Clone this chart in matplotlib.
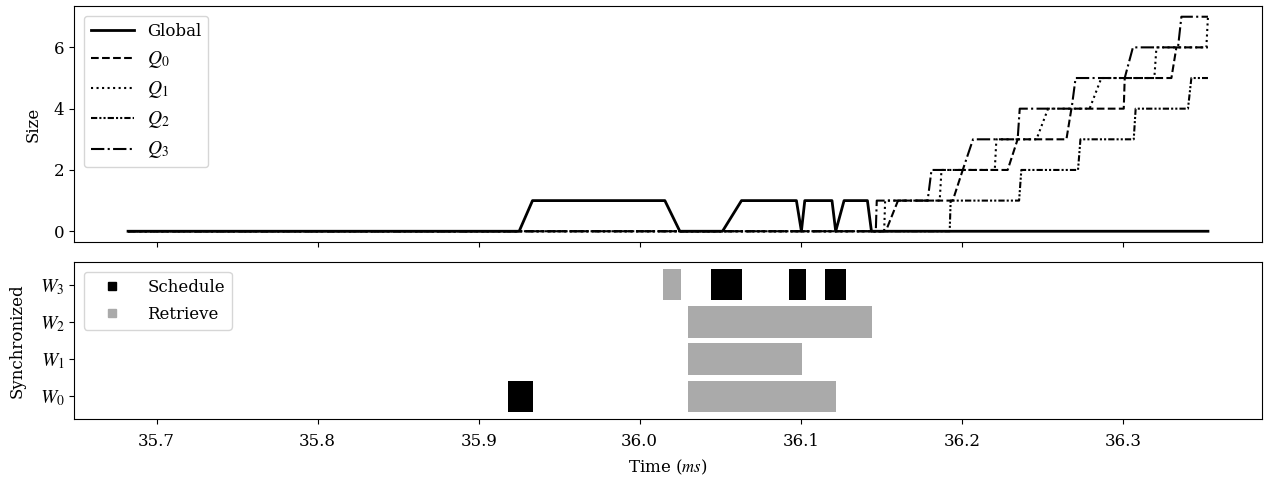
import matplotlib
matplotlib.use("Agg")
import matplotlib.pyplot as plt
from matplotlib.lines import Line2D

# ----------------------------------------------------------
# Data (times in ms)
# ----------------------------------------------------------

global_t = [35.6822, 35.9251, 35.9334, 36.0156, 36.0249, 36.0514, 36.0632,
            36.0973, 36.1004, 36.1025, 36.1194, 36.1217, 36.1269, 36.1414,
            36.1439, 36.3529]
global_v = [0, 0, 1, 1, 0, 0, 1, 1, 0, 1, 1, 0, 1, 1, 0, 0]

q0_t = [35.6822, 36.1528, 36.1604, 36.1944, 36.2006, 36.2285, 36.2347,
        36.2650, 36.2681, 36.3006, 36.3012, 36.3302, 36.3333, 36.3529]
q0_v = [0, 0, 1, 1, 2, 2, 3, 3, 4, 4, 5, 5, 6, 6]

q1_t = [35.6822, 36.1518, 36.1524, 36.1863, 36.1874, 36.2205, 36.2215,
        36.2464, 36.2536, 36.2794, 36.2867, 36.3196, 36.3209, 36.3519,
        36.3529]
q1_v = [0, 0, 1, 1, 2, 2, 3, 3, 4, 4, 5, 5, 6, 6, 7]

q2_t = [35.6822, 36.1925, 36.1931, 36.2356, 36.2370, 36.2722, 36.2737,
        36.3068, 36.3080, 36.3405, 36.3426, 36.3529]
q2_v = [0, 0, 1, 1, 2, 2, 3, 3, 4, 4, 5, 5]

q3_t = [35.6822, 36.1466, 36.1472, 36.1788, 36.1812, 36.2006, 36.2070,
        36.2347, 36.2360, 36.2682, 36.2707, 36.3012, 36.3063, 36.3343,
        36.3364, 36.3529]
q3_v = [0, 0, 1, 1, 2, 2, 3, 3, 4, 4, 5, 5, 6, 6, 7, 7]

workers = ["$W_0$", "$W_1$", "$W_2$", "$W_3$"]

# (start, width) per worker
schedule = [
    [(35.9181, 0.0155)],
    [],
    [],
    [(36.0443, 0.0195), (36.0930, 0.0101), (36.1149, 0.0130)],
]
retrieve = [
    [(36.0297, 0.0921)],
    [(36.0297, 0.0711)],
    [(36.0297, 0.1148)],
    [(36.0145, 0.0112)],
]

# ----------------------------------------------------------
# Style
# ----------------------------------------------------------

plt.rcParams["font.family"] = "serif"
plt.rcParams["font.serif"] = ["DejaVu Serif", "Liberation Serif"]
plt.rcParams["mathtext.fontset"] = "stix"
plt.rcParams["font.size"] = 12
plt.rcParams["xtick.major.pad"] = 6.5

fig, (ax_top, ax_bot) = plt.subplots(
    2, 1, sharex=True, figsize=(12.66, 4.84), dpi=100,
    gridspec_kw={"height_ratios": [236, 157]}
)
fig.subplots_adjust(left=0.0585, right=0.9968, top=0.9876,
                    bottom=0.1343, hspace=0.102)

# ----------------------------------------------------------
# Queue sizes
# ----------------------------------------------------------

ax_top.plot(global_t, global_v, color="black", lw=2.0, ls="-", label="Global")
ax_top.plot(q0_t, q0_v, color="black", lw=1.5, ls="--", label="$Q_0$")
ax_top.plot(q1_t, q1_v, color="black", lw=1.5, ls=":", label="$Q_1$")
ax_top.plot(q2_t, q2_v, color="black", lw=1.5,
            ls=(0, (3, 1, 1, 1, 1, 1)), label="$Q_2$")
ax_top.plot(q3_t, q3_v, color="black", lw=1.5, ls="-.", label="$Q_3$")

ax_top.set_ylabel("Size", labelpad=9)
ax_top.set_yticks([0, 2, 4, 6])
leg = ax_top.legend(loc="upper left", handlelength=2.6, labelspacing=0.55,
                    borderaxespad=0.6)
for txt in leg.get_texts()[1:]:
    txt.set_fontsize(14)

# ----------------------------------------------------------
# Worker activity
# ----------------------------------------------------------

bar_h = 0.84
for i in range(len(workers)):
    if retrieve[i]:
        ax_bot.broken_barh(retrieve[i], (i - bar_h / 2, bar_h),
                           facecolors="#aaaaaa", linewidth=0)
    if schedule[i]:
        ax_bot.broken_barh(schedule[i], (i - bar_h / 2, bar_h),
                           facecolors="black", linewidth=0)

ax_bot.set_yticks(range(len(workers)))
ax_bot.set_yticklabels(workers, fontsize=14)
ax_bot.set_ylabel("Synchronized", labelpad=10)
ax_bot.set_xlabel("Time ($ms$)", labelpad=6)
ax_bot.set_xticks([35.7, 35.8, 35.9, 36.0, 36.1, 36.2, 36.3])

handles = [
    Line2D([], [], ls="none", marker="s", markersize=6, color="black"),
    Line2D([], [], ls="none", marker="s", markersize=6, color="#aaaaaa"),
]
ax_bot.legend(handles, ["Schedule", "Retrieve"], loc="upper left",
              handlelength=2.6, labelspacing=0.62, borderaxespad=0.6)

fig.savefig("out.png", dpi=100)
